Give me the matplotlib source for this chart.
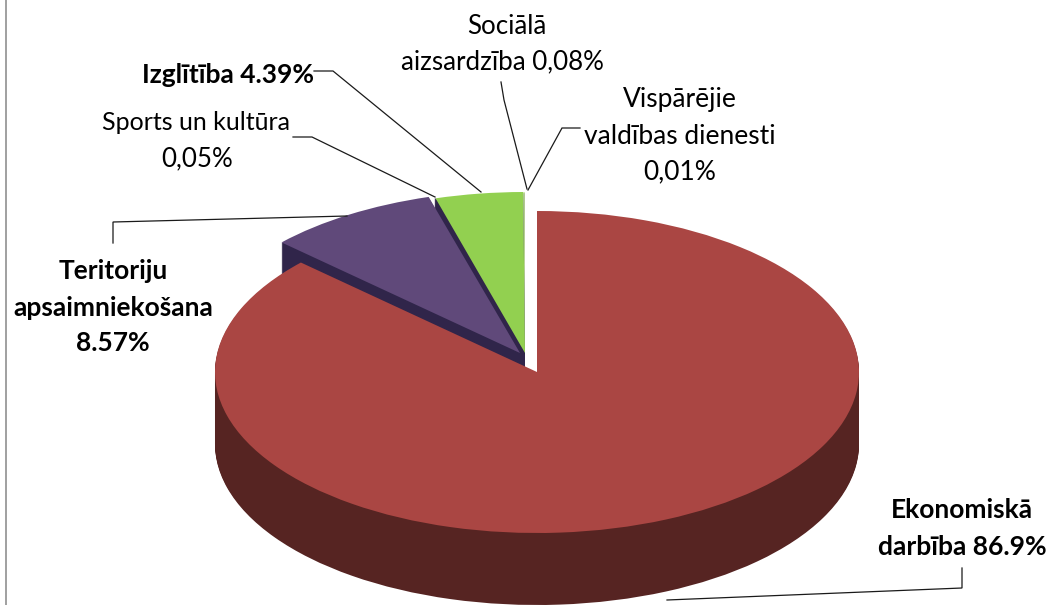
#!/usr/bin/env python3
import matplotlib
matplotlib.use('Agg')
import matplotlib.pyplot as plt

W, H = 1052, 605

# slices, clockwise from 12 o'clock
values = [86.9, 8.57, 0.05, 4.39, 0.08, 0.01]
top_colors = ['#AA4643', '#60497A', '#30254A', '#92D050', '#C9E8A0', '#C9E8A0']
side_colors = ['#562422', '#30254A', '#30254A', '#30254A', '#30254A', '#30254A']

# pie geometry in pixels
cx, cy = 537, 372
rx, ry = 322, 161
depth = 72
# where each slice got pulled out to
centers = [(537, 372), (520, 353), (525, 353), (525, 353), (525, 353), (525, 353)]
radii = [1, 1.01, 1, 1, 1, 1]

plt.rcParams['font.family'] = ['Lato', 'DejaVu Sans']

fig = plt.figure(figsize=(W / 100, H / 100), dpi=100, facecolor='white')
ax = fig.add_axes([0, 0, 1, 1])


def to_units(px, py):
    return (px - cx) / rx, (cy - py) / ry


def draw_layer(colors, shift=0):
    wedges, _ = ax.pie(values, colors=colors, startangle=90, counterclock=False,
                       radius=1, wedgeprops={'linewidth': 0})
    for w, (px, py), r in zip(wedges, centers, radii):
        w.set_center(to_units(px, py + shift))
        w.set_radius(r)


# side walls first, deepest at the bottom
for d in range(depth, 0, -1):
    draw_layer(side_colors, d)
draw_layer(top_colors, 0)

ax.set_aspect('auto')
ax.set_xlim(-cx / rx, (W - cx) / rx)
ax.set_ylim((cy - H) / ry, cy / ry)
ax.axis('off')

# overlay in image pixels for labels and leader lines
ov = fig.add_axes([0, 0, 1, 1])
ov.set_xlim(0, W)
ov.set_ylim(H, 0)
ov.axis('off')
ov.patch.set_alpha(0)

# chart frame, only the left side is in the crop
ov.plot([5.5, 5.5], [0, H], color='#868686', lw=1.1)

leaders = [
    ([314, 333, 481], [71, 71, 192]),
    ([293, 312, 435], [137, 137, 197]),
    ([113, 113, 347], [243, 222, 216]),
    ([501, 504, 527], [82, 100, 189]),
    ([580, 562, 528], [128, 128, 190]),
    ([962, 962, 667], [568, 588, 600]),
]
for xs, ys in leaders:
    ov.plot(xs, ys, color='#1A1A1A', lw=0.9, solid_joinstyle='miter')

labels = [
    (507, 27, 'Sociālā', 'normal', 18.6),
    (502, 62, 'aizsardzība 0,08%', 'normal', 18.6),
    (680, 100, 'Vispārējie', 'normal', 19),
    (680, 136, 'valdības dienesti', 'normal', 19),
    (680, 172, '0,01%', 'normal', 19),
    (228, 75, 'Izglītība 4.39%', 'bold', 19),
    (196, 123, 'Sports un kultūra', 'normal', 18),
    (197, 159, '0,05%', 'normal', 18.6),
    (113, 271, 'Teritoriju', 'bold', 19),
    (113, 308, 'apsaimniekošana', 'bold', 19),
    (113, 343, '8.57%', 'bold', 19),
    (962, 510, 'Ekonomiskā', 'bold', 19),
    (962, 547, 'darbība 86.9%', 'bold', 19),
]
for x, y, s, weight, fs in labels:
    ov.text(x, y, s, ha='center', va='center', fontsize=fs, fontweight=weight, color='black')

fig.savefig('out.png', dpi=100, facecolor='white')
